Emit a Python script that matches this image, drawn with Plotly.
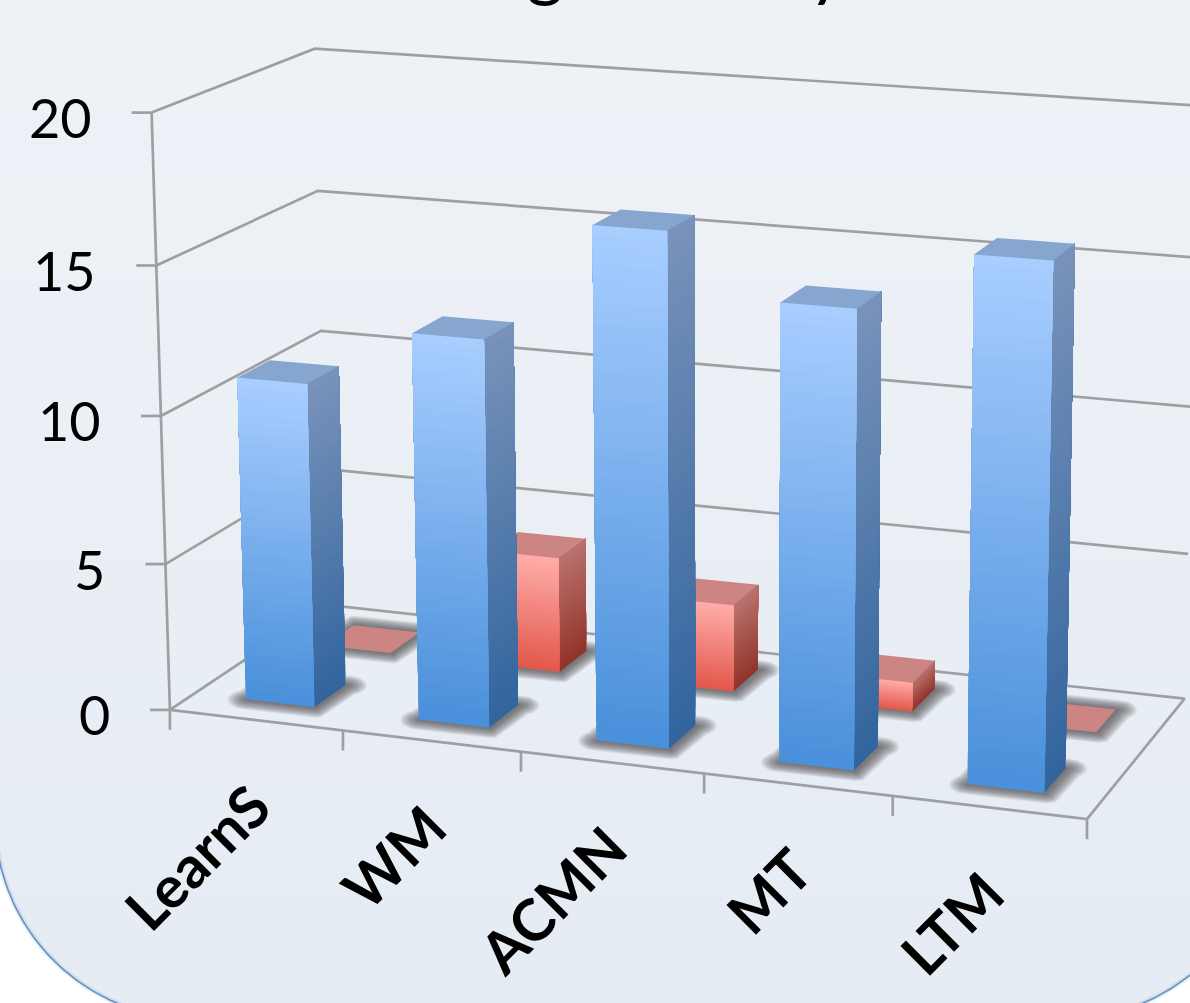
import numpy as np
import plotly.graph_objects as go

# Chart values
CATEGORIES = ["LearnS", "WM", "ACMN", "MT", "LTM"]
FRONT_ROW = [11, 13, 17, 15, 17]
BACK_ROW = [0, 4, 3, 1, 0]
VALUE_TICKS = [0, 5, 10, 15, 20]
TITLE = "Learning Memory"

WIDTH, HEIGHT = 1190, 1003

# Perspective camera: (category, depth, value) -> page position
CAMERA = np.array([
    [168.271, 182.3593, -1.1521, 169.9114],
    [10.44793, -58.15786, -30.03987, 709.8875],
    [-0.01393219, 0.07727132, -0.001559236, 1.0],
])

BAR_HALF = 0.2
ROW_SPANS = {"front": (0.15, 0.35), "back": (0.65, 0.85)}
GRID = "#9f9f9f"
TEXT_FONT = "Lato"

STYLES = {
    "front": dict(face=((168, 205, 255), (74, 144, 218)),
                  side=((120, 146, 186), (50, 101, 158)),
                  top="#86a6cf"),
    "back": dict(face=((255, 172, 168), (226, 88, 76)),
                 side=((186, 113, 109), (146, 52, 42)),
                 top="#cc8583"),
}


def project(x, y, z):
    q = CAMERA @ np.array([x, y, z, 1.0])
    return q[0] / q[2], q[1] / q[2]


def mix(c0, c1, t):
    return "rgb(%d,%d,%d)" % tuple(round(a + (b - a) * t) for a, b in zip(c0, c1))


fig = go.Figure()


def polygon(points, color):
    xs, ys = zip(*points)
    fig.add_trace(go.Scatter(x=list(xs) + [xs[0]], y=list(ys) + [ys[0]], mode="lines",
                             fill="toself", fillcolor=color, line=dict(width=0),
                             hoverinfo="skip", showlegend=False))


def stroke(points, color=GRID, width=2.7):
    xs, ys = zip(*points)
    fig.add_trace(go.Scatter(x=xs, y=ys, mode="lines", line=dict(color=color, width=width),
                             hoverinfo="skip", showlegend=False))


# Page background: soft vertical gradient, then the rounded panel corners
shapes = []
STRIPS = 18
for k in range(STRIPS):
    shapes.append(dict(type="rect", xref="x", yref="y", layer="below", line=dict(width=0),
                       x0=0, x1=WIDTH, y0=HEIGHT * k / STRIPS, y1=HEIGHT * (k + 1) / STRIPS + 1,
                       fillcolor=mix((238, 242, 247), (230, 236, 244), k / (STRIPS - 1))))

PANEL_RADIUS = 200
for cx, a0, a1, corner_x in [(195, np.pi, np.pi / 2, 0), (1065, np.pi / 2, 0, WIDTH)]:
    t = np.linspace(a0, a1, 80)
    ax = cx + PANEL_RADIUS * np.cos(t)
    ay = 819 + PANEL_RADIUS * np.sin(t)
    keep = (ax >= -3) & (ax <= WIDTH + 3) & (ay <= HEIGHT + 3)
    arc = list(zip(ax[keep], ay[keep]))
    polygon(arc + [(corner_x, HEIGHT + 3)], "#ffffff")
    stroke(arc, "rgba(120,130,145,0.16)", 5)
    stroke(arc, "#5b93d3", 1.6)

# Back wall and side wall gridlines
for v in VALUE_TICKS[1:]:
    stroke([project(0, 0, v), project(0, 1, v), project(5, 1, v)])

# Floor outline and value axis
stroke([project(0, 0, 0), project(5, 0, 0), project(5, 1, 0), project(0, 1, 0), project(0, 0, 0)])
stroke([project(0, 0, 0), project(0, 0, VALUE_TICKS[-1])])

# Axis ticks
TICK_LEN = 20
for v in VALUE_TICKS:
    px, py = project(0, 0, v)
    stroke([(px - TICK_LEN, py), (px, py)])
for i in range(len(CATEGORIES) + 1):
    px, py = project(i, 0, 0)
    stroke([(px, py), (px, py + TICK_LEN)])


# Soft contact shadows: the bar's footprint grown outwards with rounded corners
SWEEP = np.linspace(0, 2 * np.pi, 48, endpoint=False)
DIRECTIONS = np.c_[np.cos(SWEEP), np.sin(SWEEP)]


def shadow(i, row):
    y0, y1 = ROW_SPANS[row]
    x0, x1 = i + 0.5 - BAR_HALF, i + 0.5 + BAR_HALF
    corners = np.array([project(x0, y0, 0), project(x1, y0, 0), project(x1, y1, 0), project(x0, y1, 0)])
    layers = 14
    for k in range(layers):
        grow = 1 - k / layers
        radii = np.array([20.0, 10.0]) * grow
        outline = []
        for d in DIRECTIONS:
            support = corners[np.argmax(corners @ (d * radii))]
            outline.append(tuple(support + d * radii + np.array([1.5, 0.5])))
        polygon(outline, "rgba(80,80,80,0.085)")


for row, values in (("back", BACK_ROW), ("front", FRONT_ROW)):
    for i in range(len(values)):
        shadow(i, row)


def graded_face(corner_a, corner_b, value, colors):
    """Paint a vertical face between two floor corners, light at the top and dark at the base."""
    bands = max(30, round(value * 3.2))
    for k in range(bands):
        zk = value * k / bands
        polygon([project(*corner_a, zk), project(*corner_b, zk),
                 project(*corner_b, value), project(*corner_a, value)],
                mix(colors[1], colors[0], k / (bands - 1)))


def bar(i, value, row):
    x0, x1 = i + 0.5 - BAR_HALF, i + 0.5 + BAR_HALF
    y0, y1 = ROW_SPANS[row]
    style = STYLES[row]
    if value > 0:
        graded_face((x1, y0), (x1, y1), value, style["side"])
        graded_face((x0, y0), (x1, y0), value, style["face"])
    polygon([project(x0, y0, value), project(x1, y0, value),
             project(x1, y1, value), project(x0, y1, value)], style["top"])


for row, values in (("back", BACK_ROW), ("front", FRONT_ROW)):
    for i, value in enumerate(values):
        bar(i, value, row)

# Text
annotations = []
for v in VALUE_TICKS:
    px, py = project(0, 0, v)
    annotations.append(dict(x=px - 58, y=py + 5, text=str(v), xanchor="right", yanchor="middle",
                            xref="x", yref="y", showarrow=False,
                            font=dict(family=TEXT_FONT, size=54, color="#000000")))
for i, name in enumerate(CATEGORIES):
    px, py = project(i + 0.5, 0, 0)
    annotations.append(dict(x=px + 30, y=py + 47, text=name, textangle=-45, xanchor="right", yanchor="top",
                            xref="x", yref="y", showarrow=False,
                            font=dict(family=TEXT_FONT, size=58, color="#000000", weight="bold")))
annotations.append(dict(x=296, y=10, text=TITLE, xanchor="left", yanchor="bottom",
                        xref="x", yref="y", showarrow=False,
                        font=dict(family=TEXT_FONT, size=71, color="#000000")))

fig.update_layout(
    width=WIDTH, height=HEIGHT, margin=dict(l=0, r=0, t=0, b=0),
    paper_bgcolor="#ffffff", plot_bgcolor="rgba(0,0,0,0)",
    xaxis=dict(range=[0, WIDTH], visible=False, fixedrange=True),
    yaxis=dict(range=[HEIGHT, 0], visible=False, fixedrange=True),
    shapes=shapes, annotations=annotations, showlegend=False,
)
fig.write_html("out.html", config=dict(displayModeBar=False))
